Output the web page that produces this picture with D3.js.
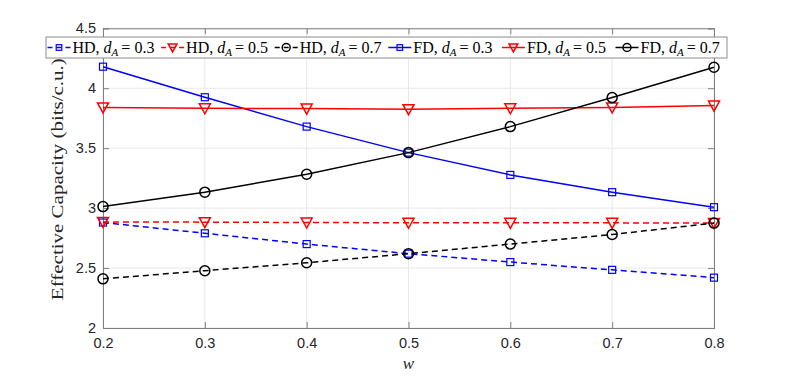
<!DOCTYPE html>
<html>
<head>
<meta charset="utf-8">
<script src="https://cdn.jsdelivr.net/npm/d3@7"></script>
<style>
  html, body { margin: 0; padding: 0; background: #fff; }
  div.container { width: 789px; height: 377px; }
  .tick text { font-family: "Liberation Sans", Arial, sans-serif; }
</style>
</head>
<body>
<div class="container"></div>
<script>
// x values (w)
const W_VALUES = [0.2, 0.3, 0.4, 0.5, 0.6, 0.7, 0.8]

// half duplex series
const HD_03 = [2.88, 2.79, 2.70, 2.62, 2.55, 2.485, 2.42]
const HD_05 = [2.885, 2.883, 2.88, 2.878, 2.877, 2.877, 2.876]
const HD_07 = [2.41, 2.478, 2.544, 2.62, 2.70, 2.78, 2.875]

// full duplex series
const FD_03 = [4.18, 3.925, 3.68, 3.463, 3.277, 3.133, 3.008]
const FD_05 = [3.84, 3.833, 3.83, 3.825, 3.833, 3.84, 3.855]
const FD_07 = [3.013, 3.133, 3.283, 3.463, 3.68, 3.922, 4.175]

// ticks
const X_TICKS = [0.2, 0.3, 0.4, 0.5, 0.6, 0.7, 0.8]
const Y_TICKS = [2, 2.5, 3, 3.5, 4, 4.5]

// legend order: [mode, dA, values, colour, marker, dashed]
const SERIES = [
    ["HD", "0.3", HD_03, "#0000ff", "square", true],
    ["HD", "0.5", HD_05, "#ff0000", "triangle", true],
    ["HD", "0.7", HD_07, "#000000", "circle", true],
    ["FD", "0.3", FD_03, "#0000ff", "square", false],
    ["FD", "0.5", FD_05, "#ff0000", "triangle", false],
    ["FD", "0.7", FD_07, "#000000", "circle", false]
]

class Chart {
    constructor(div) {
        this.div = div
        this.width = 789
        this.height = 377
        this.margin = { left: 103, right: 75, top: 28.3, bottom: 49 }
    }

    createScales() {
        this.x = d3.scaleLinear().domain([0.2, 0.8])
            .range([this.margin.left, this.width - this.margin.right])
        this.y = d3.scaleLinear().domain([2, 4.5])
            .range([this.height - this.margin.bottom, this.margin.top])
    }

    drawMarker(g, type, color, k = 1) {
        // markers drawn around (0,0), k scales them down for the legend
        if (type === "square") {
            g.append("rect").attr("x", -3.5 * k).attr("y", -3.5 * k)
                .attr("width", 7 * k).attr("height", 7 * k)
                .attr("fill", "none").attr("stroke", color).attr("stroke-width", 1.2)
        } else if (type === "triangle") {
            g.append("path")
                .attr("d", `M${-5.5 * k},${-4.5 * k}L${5.5 * k},${-4.5 * k}L0,${5.5 * k}Z`)
                .attr("fill", "none").attr("stroke", color).attr("stroke-width", 1.5)
        } else {
            g.append("circle").attr("r", 5 * k)
                .attr("fill", "none").attr("stroke", color).attr("stroke-width", 1.5)
        }
    }

    createGraph() {
        const x0 = this.x.range()[0], x1 = this.x.range()[1]
        const y0 = this.y.range()[0], y1 = this.y.range()[1]

        this.svg = d3.select(this.div).append("svg")
            .attr("width", this.width)
            .attr("height", this.height)

        // grid lines
        this.svg.append("g").selectAll("line.gx")
            .data(X_TICKS).enter().append("line")
            .attr("x1", d => this.x(d)).attr("x2", d => this.x(d))
            .attr("y1", y0).attr("y2", y1)
            .attr("stroke", "#e8e8e8").attr("stroke-width", 1)
        this.svg.append("g").selectAll("line.gy")
            .data(Y_TICKS).enter().append("line")
            .attr("y1", d => this.y(d)).attr("y2", d => this.y(d))
            .attr("x1", x0).attr("x2", x1)
            .attr("stroke", "#e8e8e8").attr("stroke-width", 1)

        // axes (ticks pointing inward)
        const xAxis = d3.axisBottom(this.x).tickValues(X_TICKS)
            .tickSize(-6).tickPadding(10).tickFormat(d3.format(".1f"))
        const yAxis = d3.axisLeft(this.y).tickValues(Y_TICKS)
            .tickSize(-6).tickPadding(7).tickFormat(d => String(d))

        const gx = this.svg.append("g")
            .attr("transform", `translate(0,${y0})`).call(xAxis)
        const gy = this.svg.append("g")
            .attr("transform", `translate(${x0},0)`).call(yAxis)

        // top and right box ticks
        const gxTop = this.svg.append("g")
            .attr("transform", `translate(0,${y1})`)
            .call(d3.axisTop(this.x).tickValues(X_TICKS).tickSize(-6).tickFormat(""))
        const gyRight = this.svg.append("g")
            .attr("transform", `translate(${x1},0)`)
            .call(d3.axisRight(this.y).tickValues(Y_TICKS).tickSize(-6).tickFormat(""))

        for (const g of [gx, gy, gxTop, gyRight]) {
            g.select(".domain").attr("stroke", "#7f7f7f").attr("stroke-width", 1)
            g.selectAll(".tick line").attr("stroke", "#7f7f7f")
            g.selectAll(".tick text").attr("fill", "#262626").style("font-size", "14.5px")
        }

        // series lines and markers
        const line = d3.line()
            .x((d, i) => this.x(W_VALUES[i]))
            .y(d => this.y(d))

        SERIES.forEach(s => {
            const [mode, dA, values, color, marker, dashed] = s
            this.svg.append("path")
                .datum(values)
                .attr("d", line)
                .attr("fill", "none")
                .attr("stroke", color)
                .attr("stroke-width", 1.5)
                .attr("stroke-dasharray", dashed ? "6,4" : null)
            values.forEach((v, i) => {
                const g = this.svg.append("g")
                    .attr("transform", `translate(${this.x(W_VALUES[i])},${this.y(v)})`)
                this.drawMarker(g, marker, color)
            })
        })

        // axis labels
        this.svg.append("text")
            .attr("x", (x0 + x1) / 2).attr("y", 369)
            .attr("text-anchor", "middle")
            .style("font-family", "'Liberation Serif', serif")
            .style("font-style", "italic")
            .style("font-size", "17px")
            .attr("fill", "#262626")
            .text("w")

        this.svg.append("text")
            .attr("transform", `translate(63,${(y0 + y1) / 2 + 1}) rotate(-90)`)
            .attr("text-anchor", "middle")
            .attr("textLength", 242)
            .attr("lengthAdjust", "spacingAndGlyphs")
            .style("font-family", "'Liberation Serif', serif")
            .style("font-size", "17.5px")
            .attr("fill", "#262626")
            .text("Effective Capacity (bits/c.u.)")

        this.createLegend()
    }

    createLegend() {
        // legend box spanning the top of the plot
        const lx = 46, ly = 37, lw = 681, lh = 21
        const leg = this.svg.append("g")
        leg.append("rect")
            .attr("x", lx).attr("y", ly).attr("width", lw).attr("height", lh)
            .attr("fill", "#fff").attr("stroke", "#8c8c8c").attr("stroke-width", 1)

        const cy = ly + lh / 2
        SERIES.forEach((s, i) => {
            const [mode, dA, values, color, marker, dashed] = s
            const ex = lx + 1.5 + i * 113.6
            const g = leg.append("g")
            g.append("line")
                .attr("x1", ex).attr("x2", ex + 23)
                .attr("y1", cy).attr("y2", cy)
                .attr("stroke", color).attr("stroke-width", 1.5)
                .attr("stroke-dasharray", dashed ? "5,4" : null)
            const m = g.append("g").attr("transform", `translate(${ex + 11.5},${cy})`)
            this.drawMarker(m, marker, color, 0.8)

            const t = g.append("text")
                .attr("x", ex + 25).attr("y", cy + 5.5)
                .style("font-family", "'Liberation Serif', serif")
                .style("font-size", "16px")
                .attr("fill", "#000")
            t.append("tspan").text(mode + ", ")
            t.append("tspan").style("font-style", "italic").text("d")
            t.append("tspan").style("font-style", "italic").style("font-size", "11px")
                .attr("dy", 3).text("A")
            t.append("tspan").attr("dy", -3).attr("dx", 3).text("=")
            t.append("tspan").attr("dx", 4).text(dA)
        })
    }

    run() {
        this.createScales()
        this.createGraph()
    }
}

let container = document.querySelector("div.container")
let chart = new Chart(container)
chart.run()
</script>
</body>
</html>
